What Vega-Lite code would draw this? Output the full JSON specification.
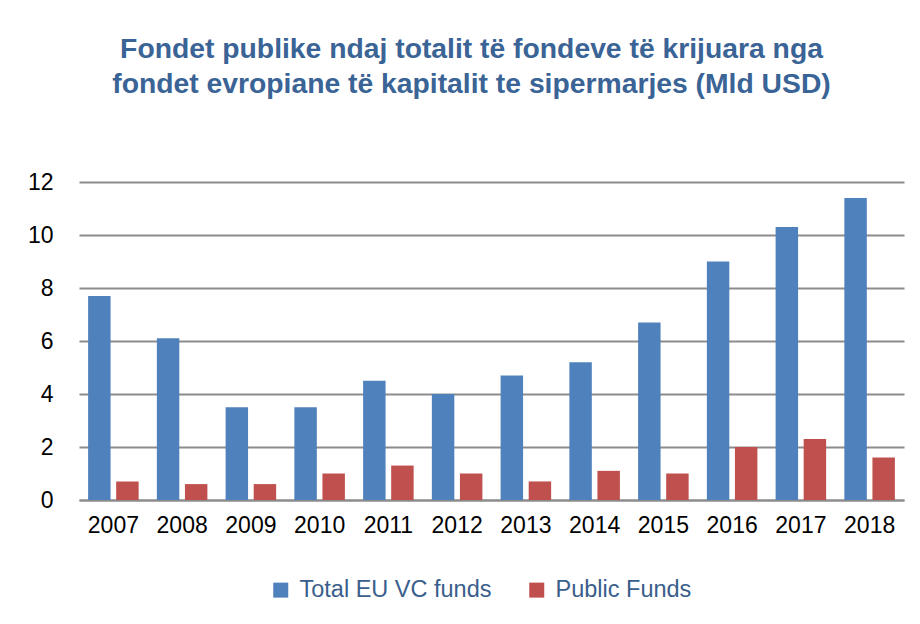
{
  "$schema": "https://vega.github.io/schema/vega-lite/v6.json",
  "width": 825,
  "height": 318,
  "autosize": "none",
  "padding": {"left": 79, "top": 182, "right": 16, "bottom": 124},
  "background": "white",
  "title": {
    "text": ["Fondet publike ndaj totalit të fondeve të krijuara nga", "fondet evropiane të kapitalit te sipermarjes (Mld USD)"],
    "anchor": "middle",
    "frame": "group",
    "dx": -20,
    "offset": 72,
    "font": "Liberation Sans",
    "fontSize": 28.3,
    "fontWeight": "bold",
    "color": "#3A6396",
    "lineHeight": 35
  },
  "data": {
    "values": [
      {"year": "2007", "series": "Total EU VC funds", "value": 7.7},
      {"year": "2008", "series": "Total EU VC funds", "value": 6.1},
      {"year": "2009", "series": "Total EU VC funds", "value": 3.5},
      {"year": "2010", "series": "Total EU VC funds", "value": 3.5},
      {"year": "2011", "series": "Total EU VC funds", "value": 4.5},
      {"year": "2012", "series": "Total EU VC funds", "value": 4.0},
      {"year": "2013", "series": "Total EU VC funds", "value": 4.7},
      {"year": "2014", "series": "Total EU VC funds", "value": 5.2},
      {"year": "2015", "series": "Total EU VC funds", "value": 6.7},
      {"year": "2016", "series": "Total EU VC funds", "value": 9.0},
      {"year": "2017", "series": "Total EU VC funds", "value": 10.3},
      {"year": "2018", "series": "Total EU VC funds", "value": 11.4},
      {"year": "2007", "series": "Public Funds", "value": 0.7},
      {"year": "2008", "series": "Public Funds", "value": 0.6},
      {"year": "2009", "series": "Public Funds", "value": 0.6},
      {"year": "2010", "series": "Public Funds", "value": 1.0},
      {"year": "2011", "series": "Public Funds", "value": 1.3},
      {"year": "2012", "series": "Public Funds", "value": 1.0},
      {"year": "2013", "series": "Public Funds", "value": 0.7},
      {"year": "2014", "series": "Public Funds", "value": 1.1},
      {"year": "2015", "series": "Public Funds", "value": 1.0},
      {"year": "2016", "series": "Public Funds", "value": 2.0},
      {"year": "2017", "series": "Public Funds", "value": 2.3},
      {"year": "2018", "series": "Public Funds", "value": 1.6}
    ]
  },
  "mark": {"type": "bar"},
  "encoding": {
    "x": {
      "field": "year",
      "type": "nominal",
      "scale": {"paddingInner": 0.265, "paddingOuter": 0.1325},
      "axis": {
        "title": null,
        "labelAngle": 0,
        "labelFont": "Liberation Sans",
        "labelFontSize": 23,
        "labelColor": "#000000",
        "labelPadding": 14,
        "ticks": false,
        "domainColor": "#8C8C8C",
        "domainWidth": 2,
        "grid": false
      }
    },
    "xOffset": {
      "field": "series",
      "type": "nominal",
      "sort": ["Total EU VC funds", "Public Funds"],
      "scale": {"paddingInner": 0.2, "paddingOuter": 0}
    },
    "y": {
      "field": "value",
      "type": "quantitative",
      "scale": {"domain": [0, 12], "nice": false},
      "axis": {
        "title": null,
        "values": [0, 2, 4, 6, 8, 10, 12],
        "labelFont": "Liberation Sans",
        "labelFontSize": 23,
        "labelColor": "#000000",
        "labelPadding": 26,
        "ticks": false,
        "domain": false,
        "grid": true,
        "gridColor": "#8C8C8C",
        "gridWidth": 2
      }
    },
    "color": {
      "field": "series",
      "type": "nominal",
      "sort": ["Total EU VC funds", "Public Funds"],
      "scale": {"domain": ["Total EU VC funds", "Public Funds"], "range": ["#4F81BD", "#C0504D"]},
      "legend": {
        "title": null,
        "orient": "none",
        "legendX": 190,
        "legendY": 396,
        "direction": "horizontal",
        "symbolType": "square",
        "symbolSize": 225,
        "symbolStrokeWidth": 0,
        "labelFont": "Liberation Sans",
        "labelFontSize": 23.5,
        "labelColor": "#3A5E8C",
        "labelLimit": 400,
        "labelOffset": 7,
        "columnPadding": 33,
        "symbolOffset": 0
      }
    }
  },
  "config": {
    "view": {"stroke": null}
  }
}
